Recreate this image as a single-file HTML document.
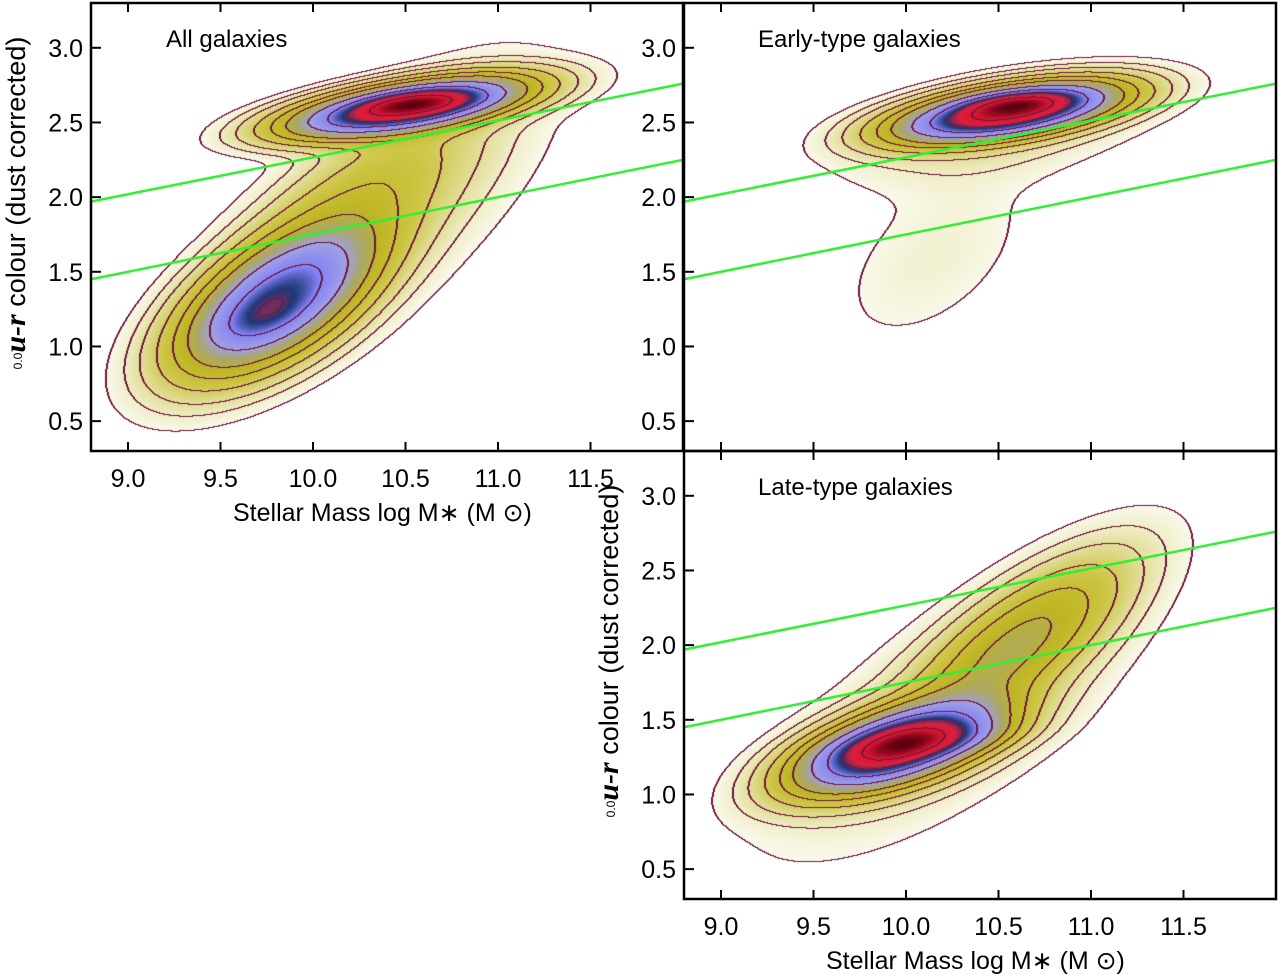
<!DOCTYPE html>
<html><head><meta charset="utf-8"><style>
body{margin:0;background:#fff;width:1280px;height:975px;overflow:hidden;position:relative;font-family:"Liberation Sans",sans-serif}
canvas{position:absolute}
svg{position:absolute;left:0;top:0}
</style></head><body>
<canvas id="c0" width="592" height="448" style="left:91px;top:3px"></canvas>
<canvas id="c1" width="592" height="448" style="left:684px;top:3px"></canvas>
<canvas id="c2" width="592" height="448" style="left:684px;top:451px"></canvas>
<svg id="ov" width="1280" height="975"></svg>
<script>
// Axis domain
const xTicks=[9.0,9.5,10.0,10.5,11.0,11.5];
const yTicks=[0.5,1.0,1.5,2.0,2.5,3.0];
// Gaussian components: [meanMass, meanColour, sigmaMass, sigmaColour, rho, weight]
const allComp=[[10.5,2.6,0.35,0.11,0.6,1.0],[10.55,2.63,0.18,0.05,0.4,0.3],[9.8,1.3,0.3,0.28,0.6,0.6],[9.72,1.2,0.14,0.1,0.5,0.1],[10.2,1.9,0.42,0.45,0.75,0.1],[10.4,1.8,0.55,0.6,0.75,0.02]];
const earlyComp=[[10.55,2.57,0.33,0.11,0.55,1.0],[10.6,2.63,0.18,0.05,0.4,0.3],[10.15,1.6,0.35,0.4,0.5,0.012],[10.5,2.45,0.5,0.22,0.5,0.03]];
const lateComp=[[9.95,1.32,0.3,0.17,0.6,1.0],[10.05,1.35,0.25,0.08,0.5,0.3],[10.6,2.0,0.35,0.35,0.75,0.2],[10.2,1.5,0.6,0.55,0.7,0.03]];
// Green dividing lines: [colour at 8.8, colour at 12.0]
const upperLine=[1.97,2.76];
const lowerLine=[1.45,2.25];
const levels=[-2.3,-1.9,-1.6,-1.3,-1.05,-0.85,-0.6,-0.42,-0.27,-0.13];
const XMIN=8.8,XMAX=12.0,YMIN=0.3,YMAX=3.3,W=592,H=448;
const sx=m=>(m-XMIN)/(XMAX-XMIN)*W, sy=c=>(YMAX-c)/(YMAX-YMIN)*H;
const stops=[[-2.3,[250,249,236]],[-1.9,[240,238,200]],[-1.5,[222,218,140]],[-1.2,[205,198,70]],[-0.9,[190,182,35]],[-0.72,[170,166,110]],[-0.58,[160,160,230]],[-0.4,[130,130,245]],[-0.3,[30,55,120]],[-0.2,[225,30,60]],[-0.1,[210,20,50]],[0,[90,0,15]]];
function col(t){if(t<stops[0][0])return[255,255,255];for(let i=1;i<stops.length;i++){if(t<=stops[i][0]){const a=stops[i-1],b=stops[i],f=(t-a[0])/(b[0]-a[0]);return a[1].map((v,k)=>v+(b[1][k]-v)*f);}}return stops[stops.length-1][1];}
function dens(comp,m,c){let s=0;for(const [mx,my,ax,ay,r,w] of comp){const dx=(m-mx)/ax,dy=(c-my)/ay;s+=w*Math.exp(-0.5*(dx*dx-2*r*dx*dy+dy*dy)/(1-r*r));}return s;}
function draw(id,comp){const cv=document.getElementById(id),ctx=cv.getContext('2d');const T=new Float32Array(W*H);let mx=0;
for(let j=0;j<H;j++)for(let i=0;i<W;i++){const m=XMIN+(i+.5)/W*(XMAX-XMIN),c=YMAX-(j+.5)/H*(YMAX-YMIN);const d=dens(comp,m,c);T[j*W+i]=d;if(d>mx)mx=d;}
const img=ctx.createImageData(W,H);const L=new Int8Array(W*H);
for(let k=0;k<W*H;k++){const t=Math.log10(T[k]/mx+1e-12);T[k]=t;let l=0;while(l<levels.length&&t>=levels[l])l++;L[k]=l;}
for(let j=0;j<H;j++)for(let i=0;i<W;i++){const k=j*W+i;let c=col(T[k]);
if((i+1<W&&L[k+1]!==L[k])||(j+1<H&&L[k+W]!==L[k])||(i>0&&L[k-1]!==L[k]))c=[110,25,60];
img.data[k*4]=c[0];img.data[k*4+1]=c[1];img.data[k*4+2]=c[2];img.data[k*4+3]=255;}
ctx.putImageData(img,0,0);}
draw('c0',allComp);draw('c1',earlyComp);draw('c2',lateComp);
const ov=document.getElementById('ov');const NS='http://www.w3.org/2000/svg';
function el(tag,a,txt){const e=document.createElementNS(NS,tag);for(const k in a)e.setAttribute(k,a[k]);if(txt!=null)e.textContent=txt;ov.appendChild(e);return e;}
const panels=[[91,3,'All galaxies',166,142,true,false,'all'],[684,3,'Early-type galaxies',758,240,false,false,'early'],[684,451,'Late-type galaxies',758,232,true,true,'late']];
for(const [ox,oy,title,tx,tw,xl,yt,nm] of panels){
 for(const L2 of [upperLine,lowerLine]){const l=el('line',{x1:ox,y1:oy+sy(L2[0]),x2:ox+W,y2:oy+sy(L2[1]),stroke:'#33ee33','stroke-width':2.5});
 
 }
 const r=el('rect',{x:ox,y:oy,width:W,height:H,fill:'none',stroke:'#000','stroke-width':2.5});
 
 
 for(const v of xTicks){const x=ox+sx(v);el('line',{x1:x,y1:oy+H,x2:x,y2:oy+H-9,stroke:'#000','stroke-width':2});el('line',{x1:x,y1:oy,x2:x,y2:oy+9,stroke:'#000','stroke-width':2});
  if(xl){const s=v.toFixed(1);const t=el('text',{x:x,y:oy+H+36,'font-size':25,'text-anchor':'middle'},s);
  
  }}
 for(const v of yTicks){const y=oy+sy(v);el('line',{x1:ox,y1:y,x2:ox+10,y2:y,stroke:'#000','stroke-width':2});
  const t=el('text',{x:ox-8,y:y+9,'font-size':25,'text-anchor':'end'},v.toFixed(1));
  
  }
 const tt=el('text',{x:tx,y:oy+44,'font-size':24},title);
 
 
 if(xl){const a=el('text',{x:ox+142,y:oy+H+70,'font-size':25},'Stellar Mass log M\u2217 (M \u2299)');
  
  }
 if(yt||nm==='all'){const cx=ox-66,cy=oy+200;const g=el('text',{x:cx,y:cy,'font-size':27,'text-anchor':'middle',transform:`rotate(-90 ${cx} ${cy})`});
  
  
  g.innerHTML='<tspan font-size="12" dy="-3">0.0</tspan><tspan font-weight="bold" font-style="italic" font-family="Liberation Serif" font-size="30" dy="3">u-r</tspan> colour (dust corrected)';}
}
</script>
</body></html>
